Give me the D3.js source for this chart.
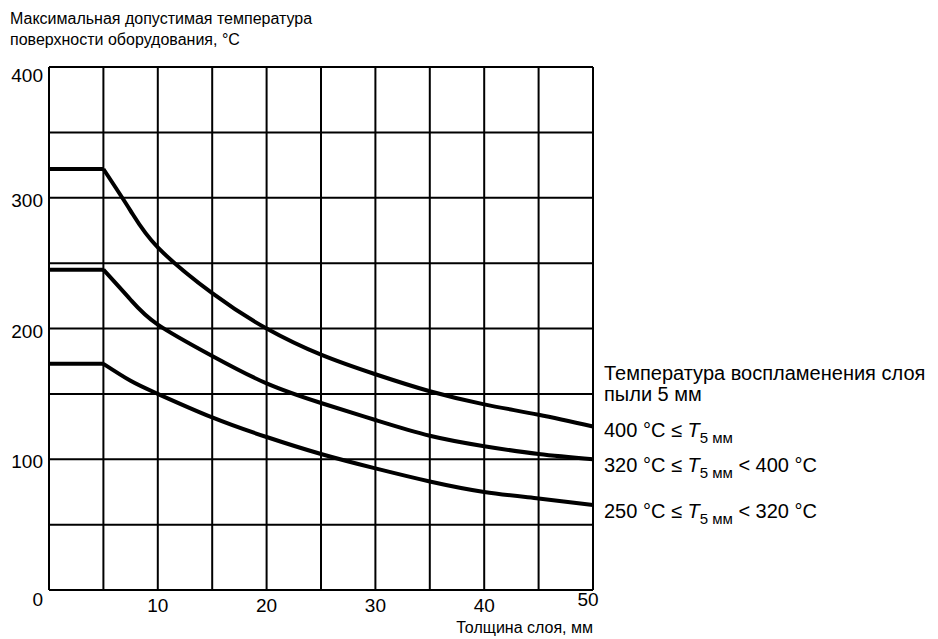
<!DOCTYPE html>
<html>
<head>
<meta charset="utf-8">
<script src="https://cdn.jsdelivr.net/npm/d3@7"></script>
<style>
  body { margin: 0; background: #fff; }
  text { font-family: "Liberation Sans", Arial, sans-serif; fill: #000; }
</style>
</head>
<body>
<div id="chart"></div>
<script>
// layer thickness, mm
const thickness = [0, 5, 7.5, 10, 15, 20, 25, 30, 35, 40, 45, 50];
// max surface temperature for each ignition class
const series400 = [322, 322, 290, 262, 227, 200, 180, 165, 152, 142, 134, 125];
const series320 = [245, 245, 222, 203, 179, 158, 143, 130, 118, 110, 104, 100];
const series250 = [173, 173, 160, 150, 132, 117, 104, 93, 83, 75, 70, 65];
const xTicks = [0, 10, 20, 30, 40, 50];
const yTicks = [0, 100, 200, 300, 400];
const titleLines = ["Максимальная допустимая температура", "поверхности оборудования, °C"];
const xTitle = "Толщина слоя, мм";
const legendTitle = ["Температура воспламенения слоя", "пыли 5 мм"];
const legendLabels = [
    ["400 °C ≤ ", ""],
    ["320 °C ≤ ", " < 400 °C"],
    ["250 °C ≤ ", " < 320 °C"]
];

const W = 938, H = 639;
const margin = {top: 67, right: 345, bottom: 49, left: 49};
const width = W - margin.left - margin.right;
const height = H - margin.top - margin.bottom;

const svg = d3.select("#chart").append("svg")
    .attr("width", W)
    .attr("height", H);

const x = d3.scaleLinear().domain([0, 50]).range([margin.left, margin.left + width]);
const y = d3.scaleLinear().domain([0, 400]).range([margin.top + height, margin.top]);

// grid
const grid = svg.append("g").attr("stroke", "#000").attr("stroke-width", 2);
grid.selectAll("line.v")
    .data(d3.range(0, 51, 5))
    .enter().append("line")
    .attr("class", "v")
    .attr("x1", d => x(d)).attr("x2", d => x(d))
    .attr("y1", y(0)).attr("y2", y(400));
grid.selectAll("line.h")
    .data(d3.range(0, 401, 50))
    .enter().append("line")
    .attr("class", "h")
    .attr("x1", x(0)).attr("x2", x(50))
    .attr("y1", d => y(d)).attr("y2", d => y(d));

// curves: flat part then smooth drop
const series = [series400, series320, series250];
const flat = d3.line().x(d => x(d[0])).y(d => y(d[1]));
const smooth = d3.line().x(d => x(d[0])).y(d => y(d[1])).curve(d3.curveNatural);

series.forEach(function(vals) {
    const pts = thickness.map((t, i) => [t, vals[i]]);
    const g = svg.append("g")
        .attr("fill", "none")
        .attr("stroke", "#000")
        .attr("stroke-width", 4);
    g.append("path").attr("d", flat(pts.filter(p => p[0] <= 5)));
    g.append("path").attr("d", smooth(pts.filter(p => p[0] >= 5)));
});

// y tick labels
svg.append("g").selectAll("text")
    .data(yTicks)
    .enter().append("text")
    .attr("x", 43)
    .attr("y", d => d === 0 ? 606 : d === 400 ? y(d) + 15 : y(d) + 9)
    .attr("text-anchor", "end")
    .attr("font-size", 19)
    .text(d => d);

// x tick labels
svg.append("g").selectAll("text")
    .data(xTicks.filter(d => d > 0))
    .enter().append("text")
    .attr("x", d => d === 50 ? x(d) - 5 : x(d))
    .attr("y", d => d === 50 ? 606 : 612)
    .attr("text-anchor", "middle")
    .attr("font-size", 19)
    .text(d => d);

// titles
svg.append("g").selectAll("text")
    .data(titleLines)
    .enter().append("text")
    .attr("x", 10)
    .attr("y", (d, i) => 24 + i * 21)
    .attr("font-size", 16)
    .text(d => d);

svg.append("text")
    .attr("x", x(50))
    .attr("y", 633)
    .attr("text-anchor", "end")
    .attr("font-size", 16)
    .text(xTitle);

// legend
svg.append("g").selectAll("text")
    .data(legendTitle)
    .enter().append("text")
    .attr("x", 604)
    .attr("y", (d, i) => 380 + i * 21)
    .attr("font-size", 20)
    .text(d => d);

const labelY = [437, 472, 518];
legendLabels.forEach(function(parts, i) {
    const t = svg.append("text")
        .attr("x", 604)
        .attr("y", labelY[i])
        .attr("font-size", 20);
    t.append("tspan").text(parts[0]);
    t.append("tspan").attr("font-style", "italic").text("T");
    t.append("tspan").attr("font-size", 15).attr("dy", 6).text("5 мм");
    t.append("tspan").attr("dy", -6).text(parts[1]);
});
</script>
</body>
</html>
